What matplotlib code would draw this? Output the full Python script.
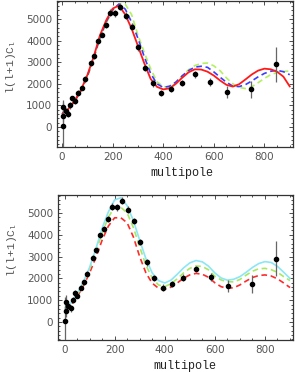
import matplotlib
matplotlib.use('Agg')
import matplotlib.pyplot as plt
from matplotlib.ticker import MultipleLocator

# multipole grid for the model curves
ell = [2, 25, 50, 75, 100, 125, 150, 175, 200, 225, 250, 275, 300, 325, 350,
       375, 400, 425, 450, 475, 500, 525, 550, 575, 600, 625, 650, 675, 700,
       725, 750, 775, 800, 825, 850, 875, 900]

# top panel models
top_red = [620, 840, 1220, 1720, 2400, 3250, 4250, 4950, 5480, 5620, 5200, 4550,
           3750, 2950, 2230, 1860, 1740, 1790, 2000, 2280, 2530, 2670, 2660, 2560,
           2380, 2150, 1950, 1870, 1980, 2200, 2430, 2610, 2700, 2670, 2560, 2330, 1880]
top_blue = [650, 840, 1200, 1690, 2350, 3200, 4150, 4880, 5420, 5690, 5450, 4850,
            4100, 3250, 2480, 2000, 1830, 1890, 2080, 2370, 2610, 2770, 2810, 2760,
            2550, 2300, 2070, 1890, 1870, 1960, 2130, 2320, 2480, 2580, 2620, 2560, 2420]
top_green = [650, 830, 1180, 1660, 2300, 3150, 4080, 4820, 5370, 5690, 5680, 5200,
             4250, 3450, 2700, 2100, 1870, 1850, 2040, 2350, 2650, 2840, 2940, 2960,
             2830, 2600, 2270, 2000, 1830, 1780, 1860, 2050, 2250, 2420, 2520, 2570, 2590]

# bottom panel models
bot_cyan = [650, 870, 1280, 1850, 2500, 3350, 4300, 5050, 5600, 5700, 5330, 4650,
            3750, 2900, 2250, 1900, 1790, 1920, 2190, 2480, 2710, 2820, 2760, 2560,
            2250, 2020, 1920, 1960, 2080, 2280, 2500, 2680, 2770, 2730, 2550, 2280, 2000]
bot_green = [600, 830, 1230, 1780, 2420, 3200, 4080, 4800, 5280, 5260, 5000, 4330,
             3450, 2600, 2020, 1700, 1620, 1760, 1980, 2250, 2460, 2570, 2550, 2390,
             2100, 1930, 1850, 1840, 1950, 2150, 2330, 2440, 2460, 2400, 2280, 2080, 1900]
bot_red = [560, 780, 1150, 1650, 2250, 2950, 3750, 4400, 4780, 4780, 4550, 3900,
           3000, 2250, 1780, 1550, 1500, 1600, 1790, 2010, 2160, 2230, 2190, 2050,
           1800, 1620, 1550, 1570, 1700, 1880, 2040, 2130, 2160, 2110, 1980, 1790, 1580]

# measured band powers
data_l = [3, 4, 5, 14, 24, 32, 40, 51, 64, 78, 89, 113, 127, 141, 157, 173, 191,
          209, 229, 252, 277, 302, 329, 359, 393, 431, 474, 526, 583, 654, 747, 846]
data_D = [50, 500, 940, 740, 620, 1000, 1330, 1200, 1580, 1820, 2220, 2950, 3280,
          3980, 4270, 4720, 5290, 5260, 5570, 5150, 4640, 3680, 2730, 2020, 1580,
          1750, 2030, 2440, 2070, 1640, 1750, 2900]
data_err = [1100, 250, 300, 150, 150, 150, 120, 120, 120, 120, 120, 120, 120, 120,
            120, 120, 150, 150, 150, 150, 150, 150, 150, 150, 150, 150, 150, 150,
            180, 280, 400, 800]

W, H = 295, 372
fig = plt.figure(figsize=(W / 100, H / 100), dpi=100)

ax1 = fig.add_axes([57 / W, 1 - 147 / H, 236 / W, 146 / H])
ax2 = fig.add_axes([58 / W, 1 - 340 / H, 235 / W, 145 / H])

ax1.plot(ell, top_green, color='#b4f060', lw=1.2, dashes=(3.4, 2.2))
ax1.plot(ell, top_blue, color='#3c3cff', lw=1.2, dashes=(3.4, 2.2))
ax1.plot(ell, top_red, color='#ff1a1a', lw=1.3)

ax2.plot(ell, bot_red, color='#ff2a2a', lw=1.2, dashes=(3.4, 2.2))
ax2.plot(ell, bot_green, color='#a8e860', lw=1.2, dashes=(3.4, 2.2))
ax2.plot(ell, bot_cyan, color='#8ce6f5', lw=1.2)

for ax, xlim, ylim, lab_y, ml_x in [(ax1, (-20, 913), (-925, 5830), 0.55, 0.53),
                                     (ax2, (-26, 912), (-825, 5825), 0.62, 0.54)]:
    ax.errorbar(data_l, data_D, yerr=data_err, fmt='o', ms=3, color='black',
                ecolor='#666666', elinewidth=0.9, capsize=0, zorder=5)
    ax.set_xlim(*xlim)
    ax.set_ylim(*ylim)
    ax.set_xticks([0, 200, 400, 600, 800])
    ax.set_yticks([0, 1000, 2000, 3000, 4000, 5000])
    ax.xaxis.set_minor_locator(MultipleLocator(50))
    ax.yaxis.set_minor_locator(MultipleLocator(200))
    ax.tick_params(which='both', direction='in', top=True, right=True,
                   labelsize=7.5, labelcolor='#555555', color='#333333', width=0.6)
    ax.tick_params(which='major', length=3, pad=3.5)
    ax.tick_params(which='minor', length=1.6)
    for s in ax.spines.values():
        s.set_color('#333333')
        s.set_linewidth(0.9)
    ax.set_xlabel('multipole', family='Liberation Mono', fontsize=8.5, color='#222222')
    ax.xaxis.set_label_coords(ml_x, -0.14)
    ax.set_ylabel(r'l(l+1)C$_\mathregular{l}$', family='Liberation Mono',
                  fontsize=8.2, color='#555555')
    ax.yaxis.set_label_coords(-0.165, lab_y)

fig.savefig('out.png', dpi=100)
